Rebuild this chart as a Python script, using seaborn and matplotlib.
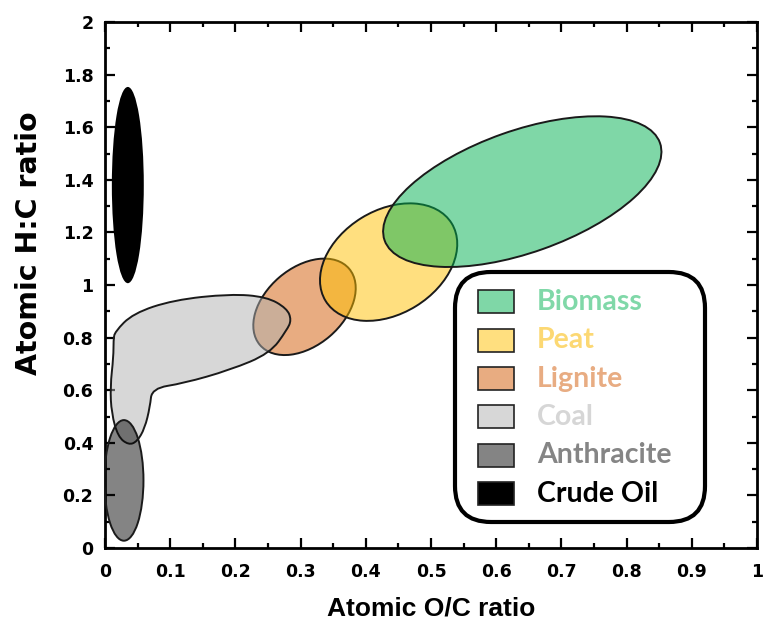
import matplotlib
matplotlib.use("Agg")
import matplotlib.pyplot as plt
from matplotlib.patches import Ellipse, PathPatch, FancyBboxPatch, Rectangle
from matplotlib.path import Path
from matplotlib.transforms import Affine2D
from matplotlib.ticker import MultipleLocator, FuncFormatter
import seaborn as sns

# legend order
names = ["Biomass", "Peat", "Lignite", "Coal", "Anthracite", "Crude Oil"]
base_colors = ["#00b050", "#ffc000", "#d25a05", "#b0b0b0", "#0a0a0a", "#000000"]
text_colors = ["#80d8a8", "#fcd873", "#e8ac82", "#d6d6d6", "#858585", "#000000"]

# elliptical regions: centre (O/C, H/C), axis lengths in O/C units, tilt in degrees
ell_names = ["Lignite", "Peat", "Biomass", "Anthracite", "Crude Oil"]
ell_oc = [0.306, 0.435, 0.640, 0.029, 0.035]
ell_hc = [0.917, 1.087, 1.355, 0.257, 1.380]
ell_major = [0.180, 0.227, 0.448, 0.185, 0.301]
ell_minor = [0.119, 0.159, 0.187, 0.060, 0.049]
ell_angle = [40.6, 31.6, 19.5, 90.0, 90.0]

# coal region outline (L shape)
coal_oc = [0.015, 0.043, 0.105, 0.192, 0.248, 0.279, 0.286, 0.279, 0.253, 0.192,
           0.120, 0.072, 0.069, 0.061, 0.049, 0.036, 0.020, 0.010, 0.008, 0.013, 0.013]
coal_hc = [0.822, 0.892, 0.943, 0.966, 0.955, 0.911, 0.867, 0.829, 0.740, 0.677,
           0.626, 0.607, 0.537, 0.455, 0.404, 0.392, 0.423, 0.512, 0.613, 0.727, 0.791]

sns.set_theme(style="ticks")
plt.rcParams['font.family'] = ['DejaVu Sans']
plt.rcParams['font.weight'] = 'bold'
plt.rcParams['text.color'] = 'black'
plt.rcParams['axes.labelcolor'] = 'black'
palette = dict(zip(names, sns.color_palette(base_colors)))
label_colors = dict(zip(names, text_colors))
zorders = {"Lignite": 2, "Coal": 3, "Anthracite": 4, "Peat": 5, "Biomass": 6, "Crude Oil": 7}

fig = plt.figure(figsize=(7.63, 6.23), dpi=100)
ax = fig.add_axes([105 / 763, 75 / 623, 652 / 763, 526 / 623])
ax.set_xlim(0, 1)
ax.set_ylim(0, 2)

# draw ellipses in a space where both axes have the same pixel scale
ratio = (526 / 2) / 652
iso = Affine2D().scale(1, 1 / ratio) + ax.transData

for n, x, y, w, h, a in zip(ell_names, ell_oc, ell_hc, ell_major, ell_minor, ell_angle):
    solid = n == "Crude Oil"
    e = Ellipse((x, y * ratio), w, h, angle=a, transform=iso,
                facecolor=palette[n], alpha=None if solid else 0.5,
                edgecolor="none", zorder=zorders[n])
    ax.add_patch(e)
    if not solid:
        ax.add_patch(Ellipse((x, y * ratio), w, h, angle=a, transform=iso,
                             facecolor="none", edgecolor="#1a1a1a", lw=1.4,
                             zorder=zorders[n]))

# coal: smooth closed curve through the outline points
pts = list(zip(coal_oc, coal_hc))
mid = lambda p, q: ((p[0] + q[0]) / 2, (p[1] + q[1]) / 2)
verts = [mid(pts[-1], pts[0])]
codes = [Path.MOVETO]
for i, p in enumerate(pts):
    verts += [p, mid(p, pts[(i + 1) % len(pts)])]
    codes += [Path.CURVE3, Path.CURVE3]
coal_path = Path(verts, codes)
ax.add_patch(PathPatch(coal_path, facecolor=palette["Coal"], alpha=0.5,
                       edgecolor="none", zorder=zorders["Coal"]))
ax.add_patch(PathPatch(coal_path, facecolor="none", edgecolor="#1a1a1a", lw=1.4,
                       zorder=zorders["Coal"]))

# axes styling
ax.xaxis.set_major_locator(MultipleLocator(0.1))
ax.xaxis.set_minor_locator(MultipleLocator(0.05))
ax.yaxis.set_major_locator(MultipleLocator(0.2))
ax.yaxis.set_minor_locator(MultipleLocator(0.1))
fmt = FuncFormatter(lambda v, p: f"{v:g}")
ax.xaxis.set_major_formatter(fmt)
ax.yaxis.set_major_formatter(fmt)
ax.tick_params(which="both", direction="in", top=True, right=True, width=1.6,
               color="black", labelsize=12.5, labelcolor="black")
ax.tick_params(which="major", length=7)
ax.tick_params(which="minor", length=3.5)
ax.tick_params(axis="x", pad=10.5)
ax.tick_params(axis="y", pad=8.4)
for s in ax.spines.values():
    s.set_linewidth(2)
    s.set_color("black")
ax.grid(False)
ax.set_xlabel("Atomic O/C ratio", fontsize=19, fontweight="bold",
              family=["Liberation Sans", "DejaVu Sans"], color="black")
ax.xaxis.set_label_coords(0.5, -0.093)
ax.set_ylabel("Atomic H:C ratio", fontsize=20.5, fontweight="bold", color="black")
ax.yaxis.set_label_coords(-0.095, 0.58)

# legend panel (inches from the figure's lower-left corner)
inch = fig.dpi_scale_trans
fig.patches.append(FancyBboxPatch((4.55, 1.01), 2.50, 2.50,
                                  boxstyle="round,pad=0,rounding_size=0.36",
                                  facecolor="white", edgecolor="black", lw=3,
                                  transform=inch, zorder=10))
row_top = 623 - 301.7
for i, n in enumerate(names):
    yc = (row_top - i * 38.4) / 100
    fig.patches.append(Rectangle((4.78, yc - 0.115), 0.36, 0.23, transform=inch,
                                 facecolor=palette[n],
                                 alpha=1 if n == "Crude Oil" else 0.5,
                                 edgecolor="none", zorder=11))
    fig.patches.append(Rectangle((4.78, yc - 0.115), 0.36, 0.23, transform=inch,
                                 facecolor="none", edgecolor="#222222", lw=1.2,
                                 zorder=12))
    fig.text(5.37, yc, n, transform=inch, color=label_colors[n], fontsize=20.5,
             fontweight="bold", family=["Lato", "DejaVu Sans"], va="center",
             ha="left", zorder=13)

fig.savefig("out.png", dpi=100)
